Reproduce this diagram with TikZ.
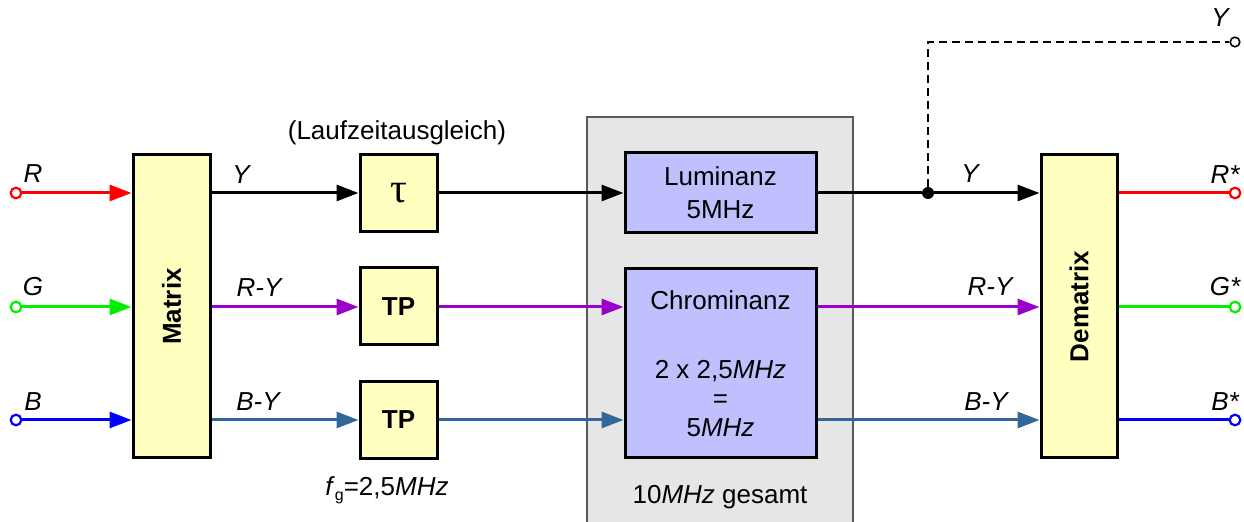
\documentclass[tikz,border=0pt]{standalone}
\usepackage{fontspec}
\setmainfont{Liberation Sans}
\newfontfamily\taufont{Liberation Serif}
\usetikzlibrary{arrows.meta}
\definecolor{boxyellow}{RGB}{255,255,192}
\definecolor{boxlav}{RGB}{192,192,255}
\definecolor{graybg}{RGB}{230,230,230}
\definecolor{grayline}{RGB}{90,90,90}
\definecolor{cred}{RGB}{255,0,0}
\definecolor{cgreen}{RGB}{0,240,0}
\definecolor{cblue}{RGB}{0,0,255}
\definecolor{cpurple}{RGB}{153,0,204}
\definecolor{csteel}{RGB}{51,102,153}
\tikzset{
  every node/.style={font=\fontsize{13}{14.5}\selectfont},
  ybox/.style={draw=black, line width=1.5pt, fill=boxyellow, inner sep=0pt},
  lbox/.style={draw=black, line width=1.5pt, fill=boxlav, inner sep=0pt, align=center},
  sig/.style={line width=1.5pt},
  arr/.style={sig, -{Triangle[length=11pt,width=8pt]}},
  term/.style={circle, draw, line width=1.1pt, fill=white, inner sep=0pt, minimum size=5.3pt},
  lab/.style={inner sep=0pt, font=\fontsize{13}{14.5}\selectfont\itshape},
}
\begin{document}
\begin{tikzpicture}[x=0.5pt,y=-0.5pt]
\useasboundingbox (0,0) rectangle (1244,522);
% gray group
\fill[graybg] (587,117) rectangle (853,522);
\draw[grayline, line width=0.8pt] (587,522) -- (587,117) -- (853,117) -- (853,522);

% boxes
\node[ybox, minimum width=38.5pt, minimum height=151.5pt] (matrix) at (171.5,306.5)
  {\rotatebox{90}{\bfseries Matrix}};
\node[ybox, minimum width=38.5pt, minimum height=38.5pt] (tau) at (398.5,193.5)
  {\taufont\fontsize{21}{22}\selectfont τ};
\node[ybox, minimum width=38.5pt, minimum height=38.5pt] (tp1) at (398.5,306.5) {\bfseries TP};
\node[ybox, minimum width=38.5pt, minimum height=38.5pt] (tp2) at (398.5,420) {\bfseries TP};
\node[lbox, minimum width=95.5pt, minimum height=40pt] (lum) at (720.5,192.5)
  {Luminanz\\[2pt]5MHz};
\node[lbox, minimum width=95.5pt, minimum height=94.5pt] (chrom) at (720.5,363.5)
  {Chrominanz\\[20pt]2 x 2,5\textit{MHz}\\=\\5\textit{MHz}};
\node[ybox, minimum width=38pt, minimum height=151.5pt] (demat) at (1079,306.5)
  {\rotatebox{90}{\bfseries Dematrix}};

% terminals
\node[term, draw=cred] (inR) at (16,193) {};
\node[term, draw=cgreen] (inG) at (16,307) {};
\node[term, draw=cblue] (inB) at (16,420) {};
\node[term, draw=cred] (outR) at (1235,193) {};
\node[term, draw=cgreen] (outG) at (1235,307) {};
\node[term, draw=cblue] (outB) at (1235,420) {};
\node[term, draw=black, line width=0.8pt, minimum size=4.8pt] (outY) at (1235,42) {};
\node[circle, fill=black, inner sep=0pt, minimum size=6pt] (jn) at (928,193) {};

% inputs
\draw[arr, cred] (inR) -- (matrix.west |- inR);
\draw[arr, cgreen] (inG) -- (matrix.west |- inG);
\draw[arr, cblue] (inB) -- (matrix.west |- inB);
% matrix to filters
\draw[arr, black] (matrix.east |- inR) -- (tau.west |- inR);
\draw[arr, cpurple] (matrix.east |- inG) -- (tp1.west |- inG);
\draw[arr, csteel] (matrix.east |- inB) -- (tp2.west |- inB);
% filters to channel
\draw[arr, black] (tau.east |- inR) -- (lum.west |- inR);
\draw[arr, cpurple] (tp1.east |- inG) -- (chrom.west |- inG);
\draw[arr, csteel] (tp2.east |- inB) -- (chrom.west |- inB);
% channel to dematrix
\draw[sig, black] (lum.east |- inR) -- (jn);
\draw[arr, black] (jn) -- (demat.west |- inR);
\draw[arr, cpurple] (chrom.east |- inG) -- (demat.west |- inG);
\draw[arr, csteel] (chrom.east |- inB) -- (demat.west |- inB);
\draw[black, line width=1pt, dash pattern=on 4pt off 2.5pt] (jn) |- (outY);
% outputs
\draw[sig, cred] (demat.east |- outR) -- (outR);
\draw[sig, cgreen] (demat.east |- outG) -- (outG);
\draw[sig, cblue] (demat.east |- outB) -- (outB);

% labels
\node[lab] (lR) at (33,174) {R};
\node[lab] (lG) at (33,287) {G};
\node[lab] (lB) at (33,402) {B};
\node[lab] (lY1) at (241,175) {Y};
\node[lab] (lRY1) at (259,288) {R-Y};
\node[lab] (lBY1) at (258,402) {B-Y};
\node[inner sep=0pt] (lauf) at (397,133) {(Laufzeitausgleich)};
\node[inner sep=0pt, anchor=base west] (fg) at (325,496)
  {\textit{f}\raisebox{-0.35ex}{\fontsize{8}{9}\selectfont g}=2,5\textit{MHz}};
\node[inner sep=0pt] (ges) at (720,497) {10\textit{MHz} gesamt};
\node[lab] (lY2) at (970,174) {Y};
\node[lab] (lRY2) at (990,287) {R-Y};
\node[lab] (lBY2) at (986,402) {B-Y};
\node[lab] (lRs) at (1225,175) {R*};
\node[lab] (lGs) at (1225,287) {G*};
\node[lab] (lBs) at (1225,402) {B*};
\node[lab] (lYo) at (1220,18) {Y};
\end{tikzpicture}
\end{document}
